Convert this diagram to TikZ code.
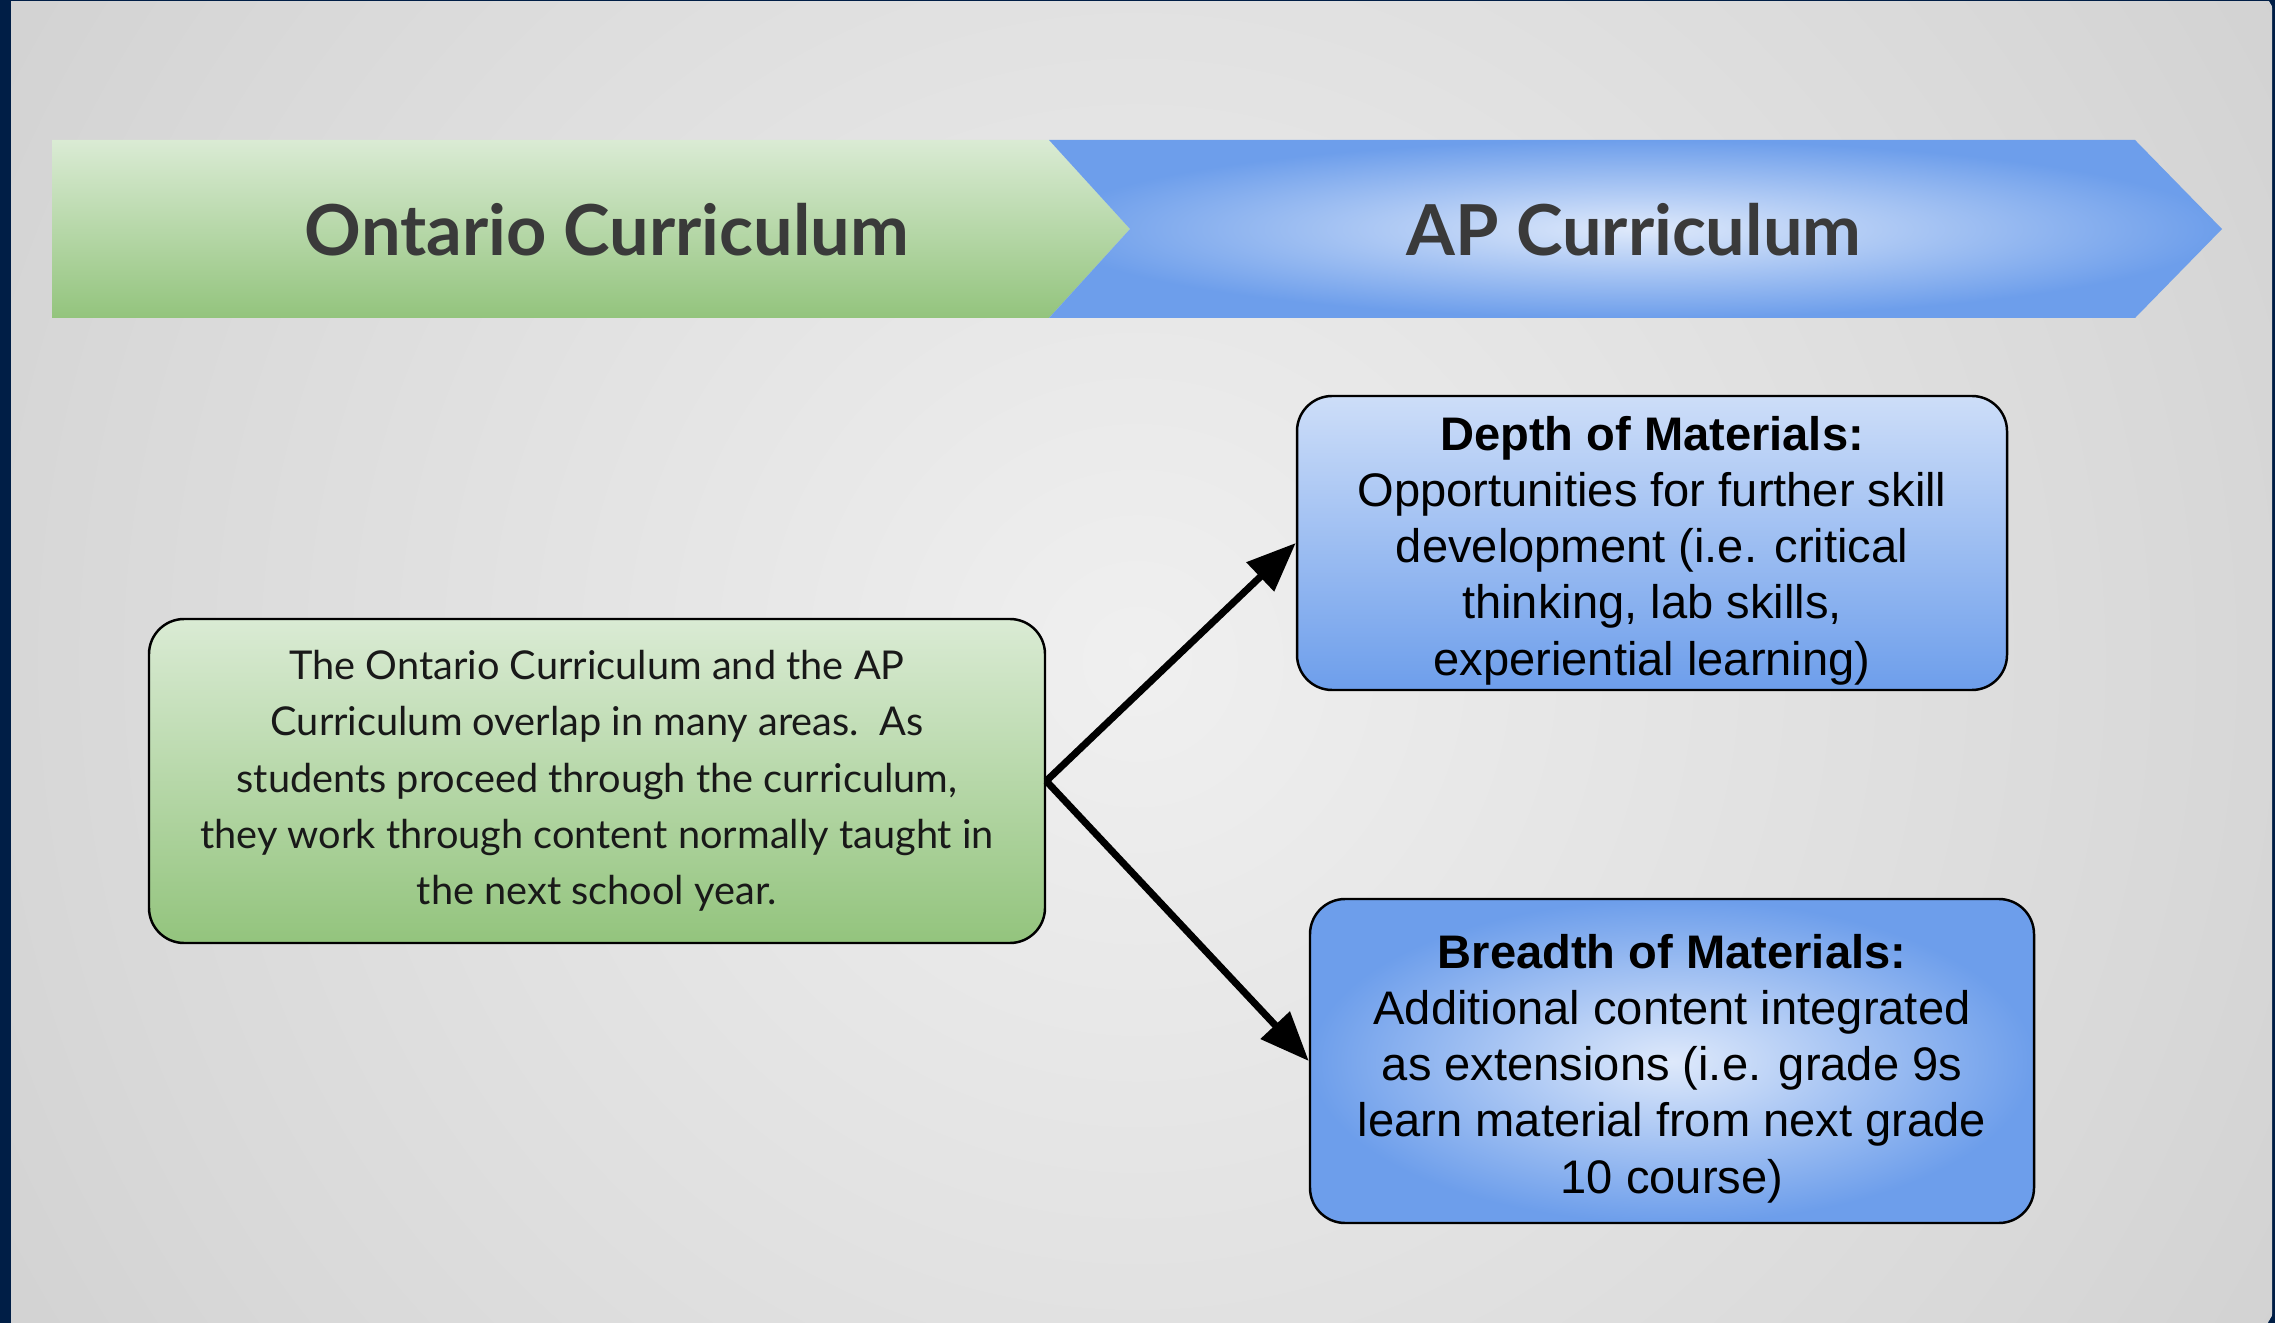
\documentclass[tikz,border=0pt]{standalone}
\usepackage{fontspec}
\setmainfont{Liberation Sans}
\newfontfamily\slidefont{Lato}
\usetikzlibrary{positioning}
\usetikzlibrary{calc}
\usetikzlibrary{arrows.meta}
\definecolor{navy}{RGB}{0,30,70}
\definecolor{greenlight}{RGB}{218,235,212}
\definecolor{greendark}{RGB}{147,196,125}
\definecolor{bluelight}{RGB}{222,233,251}
\definecolor{bluedark}{RGB}{109,158,235}
\definecolor{titlegray}{RGB}{58,58,58}
\pgfdeclareradialshading{slidebg}{\pgfpoint{0bp}{0bp}}{color(0bp)=(black!6); color(20bp)=(black!15); color(38bp)=(black!24); color(50bp)=(black!30)}
\tikzset{>={Triangle[length=14pt,width=11pt]}}
\tikzset{title/.style={font=\slidefont\fontsize{20}{24}\selectfont\bfseries, text=titlegray}}
\tikzset{ontbox/.style={rectangle, rounded corners=10pt, draw=black, line width=0.7pt,
    top color=greenlight, bottom color=greendark, minimum width=8.96cm, minimum height=3.24cm,
    align=center, font=\slidefont\fontsize{11.3}{16}\selectfont, text=black!90}}
\tikzset{apbox/.style={rectangle, rounded corners=10pt, draw=black, line width=0.7pt,
    inner color=bluelight, outer color=bluedark, minimum width=7.1cm, minimum height=2.94cm,
    inner ysep=0pt, align=center, font=\fontsize{13.4}{16}\selectfont}}
\tikzset{link/.style={->, line width=2pt}}

\begin{document}
\begin{tikzpicture}
    \useasboundingbox (0,0) rectangle (22.75,-13.23);
    % ------- Background ------- %
    \fill [navy] (0,0) rectangle (22.75,-13.23);
    \begin{scope}
        \clip (0.11,-0.02) rectangle (22.72,-13.23);
        \shade [shading=slidebg] (11.37,-6.61) circle (13.1);
    \end{scope}

    % ------- Start Banner ------- %
    \coordinate (gl) at (0.52,-1.40);
    \coordinate (gr) at (10.49,-1.40);
    \coordinate (tip) at (11.30,-2.29);
    \shade [top color=greenlight, bottom color=greendark]
        (gl) -- (gr) -- (tip) -- (10.49,-3.18) -- (0.52,-3.18) -- cycle;
    \shade [inner color=bluelight, outer color=bluedark]
        (gr) -- (21.35,-1.40) -- (22.22,-2.29) -- (21.35,-3.18) -- (10.49,-3.18) -- (tip) -- cycle;

    \node [title] (ont) at (6.07,-2.30) {Ontario Curriculum};
    \node [title] (ap) at (16.34,-2.30) {AP Curriculum};
    % ------- End Banner ------- %

    % ------- Start Boxes ------- %
    \node [ontbox] (ontario) at (5.97,-7.81) {The Ontario Curriculum and the AP\\
        Curriculum overlap in many areas.\ \ As\\
        students proceed through the curriculum,\\
        they work through content normally taught in\\
        the next school year.};

    \node [apbox, top color=bluelight!85!bluedark, bottom color=bluedark] (depth) at (16.52,-5.43)
        {\rule{0pt}{14pt}\textbf{Depth of Materials:}\\
        Opportunities for further skill\\
        development (i.e. critical\\
        thinking, lab skills,\\
        experiential learning)};

    \node [apbox, minimum width=7.24cm, minimum height=3.24cm] (breadth) at (16.72,-10.61)
        {\rule{0pt}{14pt}\textbf{Breadth of Materials:}\\
        Additional content integrated\\
        as extensions (i.e. grade 9s\\
        learn material from next grade\\
        10 course)};
    % ------- End Boxes ------- %

    % Arrows from the Ontario box to both AP boxes.
    \draw [link] (ontario.east) -- (depth.west);
    \draw [link] (ontario.east) -- (breadth.west);
\end{tikzpicture}
\end{document}
